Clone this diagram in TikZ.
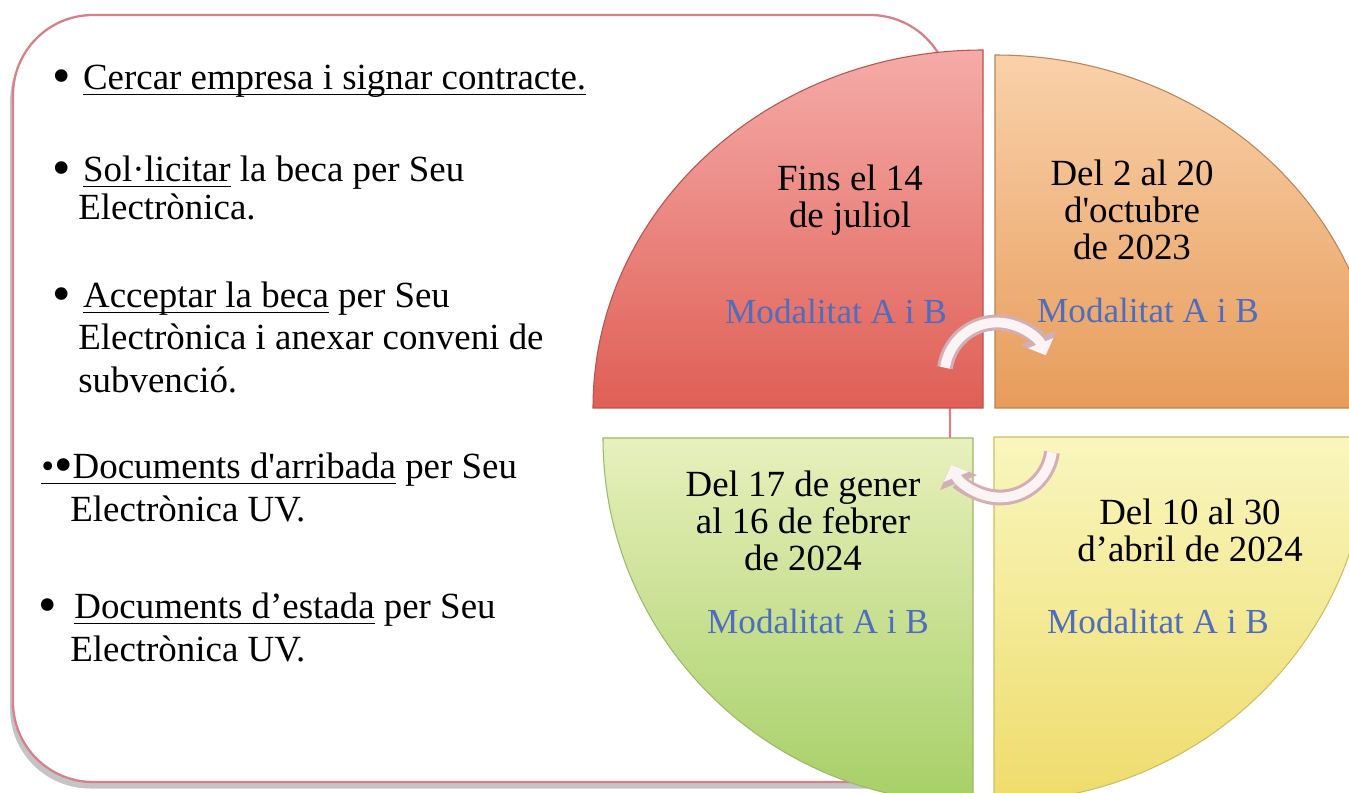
\documentclass[tikz,border=0pt]{standalone}
\usepackage{fontspec}
\setmainfont{Liberation Serif}
\usepackage{xcolor}
\usepackage{tikz}
\usetikzlibrary{calc,arrows.meta}
\definecolor{boxline}{HTML}{D6808C}
\definecolor{boxshade}{HTML}{C4C4C4}
\definecolor{redtop}{HTML}{F5ABA8}
\definecolor{redbot}{HTML}{DF5F55}
\definecolor{redrim}{HTML}{B9524C}
\definecolor{orgtop}{HTML}{F9D1AA}
\definecolor{orgbot}{HTML}{E79C5B}
\definecolor{orgrim}{HTML}{B98456}
\definecolor{grntop}{HTML}{E8F0BC}
\definecolor{grnbot}{HTML}{A6CF66}
\definecolor{grnrim}{HTML}{9DB86A}
\definecolor{ylwtop}{HTML}{F9F6BE}
\definecolor{ylwbot}{HTML}{EEDC6B}
\definecolor{ylwrim}{HTML}{CDBD62}
\definecolor{modblue}{HTML}{4E6DBE}
\definecolor{arrowedge}{HTML}{D2AEB5}
\definecolor{arrowfill}{HTML}{FBF3F4}
\newcommand{\undl}[1]{\setbox0\hbox{#1}\rlap{\rule[-3pt]{\wd0}{1pt}}\box0\relax}
\newcommand{\blt}{\raisebox{-2pt}{\fontsize{30}{30}\selectfont •}}
\tikzset{
  item/.style={anchor=base west, inner sep=0pt, font=\fontsize{21}{25}\selectfont, text=black},
  datebox/.style={align=center, inner sep=0pt, font=\fontsize{21}{21}\selectfont, text=black},
  modebox/.style={inner sep=0pt, font=\fontsize{20}{24}\selectfont, text=modblue},
  quad/.style={line width=0.6pt},
  arrowout/.style={draw=arrowedge, line width=9pt, -{Triangle[width=22pt,length=11pt]}},
  arrowin/.style={draw=arrowfill, line width=5.5pt, -{Triangle[width=15pt,length=7.5pt]}},
}

\begin{document}
\begin{tikzpicture}
  \useasboundingbox (0,0) rectangle (26.98,15.84);
  \clip (0,0) rectangle (26.98,15.84);

  % list box
  \coordinate (boxsw) at (0.26,0.2);
  \coordinate (boxne) at (19.0,15.54);
  \fill[boxshade, rounded corners=1.6cm] ($(boxsw)+(-0.06,-0.13)$) rectangle ($(boxne)+(-0.06,-0.13)$);
  \draw[boxline, fill=white, line width=1.3pt, rounded corners=1.6cm] (boxsw) rectangle (boxne);

  \node[item] (l1a) at (1.04,14.04) {\blt\hspace{7pt}\undl{Cercar empresa i signar contracte.}};
  \node[item] (l2a) at (1.04,12.2) {\blt\hspace{7pt}\undl{Sol·licitar} la beca per Seu};
  \node[item] (l2b) at (1.56,11.44) {Electrònica.};
  \node[item] (l3a) at (1.04,9.68) {\blt\hspace{7pt}\undl{Acceptar la beca} per Seu};
  \node[item] (l3b) at (1.56,8.84) {Electrònica i anexar conveni de};
  \node[item] (l3c) at (1.56,7.98) {subvenció.};
  \node[item] (l4a) at (0.82,6.26) {\undl{•\blt Documents d\textquotesingle arribada} per Seu};
  \node[item] (l4b) at (1.4,5.4) {Electrònica UV.};
  \node[item] (l5a) at (0.76,3.46) {\blt\hspace{10pt}\undl{Documents d’estada} per Seu};
  \node[item] (l5b) at (1.4,2.6) {Electrònica UV.};

  % quadrants
  \coordinate (cR) at (19.66,7.68);
  \coordinate (cO) at (19.9,7.68);
  \coordinate (cG) at (19.46,7.08);
  \coordinate (cY) at (19.88,7.1);

  \path[quad, draw=redrim, top color=redtop, bottom color=redbot]
    (cR) -- ++(0,7.16) arc[start angle=90, end angle=180, x radius=7.8cm, y radius=7.16cm] -- cycle;
  \path[quad, draw=orgrim, top color=orgtop, bottom color=orgbot]
    (cO) -- ++(0,7.06) arc[start angle=90, end angle=0, x radius=7.7cm, y radius=7.06cm] -- cycle;
  \path[quad, draw=grnrim, top color=grntop, bottom color=grnbot]
    (cG) -- ++(0,-7.3) arc[start angle=270, end angle=180, x radius=7.4cm, y radius=7.3cm] -- cycle;
  \path[quad, draw=ylwrim, top color=ylwtop, bottom color=ylwbot]
    (cY) -- ++(0,-7.3) arc[start angle=270, end angle=360, x radius=7.5cm, y radius=7.3cm] -- cycle;

  \node[datebox] (jul) at (17.0,11.83) {Fins el 14\\de juliol};
  \node[datebox] (oct) at (22.64,11.65) {Del 2 al 20\\d\textquotesingle octubre\\de 2023};
  \node[datebox] (gen) at (16.06,5.43) {Del 17 de gener\\al 16 de febrer\\de 2024};
  \node[datebox] (abr) at (23.8,5.23) {Del 10 al 30\\d’abril de 2024};

  \node[modebox] (modR) at (16.72,9.62) {Modalitat A i B};
  \node[modebox] (modO) at (22.96,9.64) {Modalitat A i B};
  \node[modebox] (modG) at (16.36,3.42) {Modalitat A i B};
  \node[modebox] (modY) at (23.16,3.42) {Modalitat A i B};

  % cycle arrows
  \coordinate (cyc1) at (19.94,8.34);
  \coordinate (cyc2) at (20.0,6.94);
  \draw[arrowout] ($(cyc1)+(172:1.05)$) arc[start angle=172, end angle=22, radius=1.05cm];
  \draw[arrowin] ($(cyc1)+(172:1.05)$) arc[start angle=172, end angle=22, radius=1.05cm];
  \draw[arrowout] ($(cyc2)+(-8:1.05)$) arc[start angle=-8, end angle=-158, radius=1.05cm];
  \draw[arrowin] ($(cyc2)+(-8:1.05)$) arc[start angle=-8, end angle=-158, radius=1.05cm];
\end{tikzpicture}
\end{document}
